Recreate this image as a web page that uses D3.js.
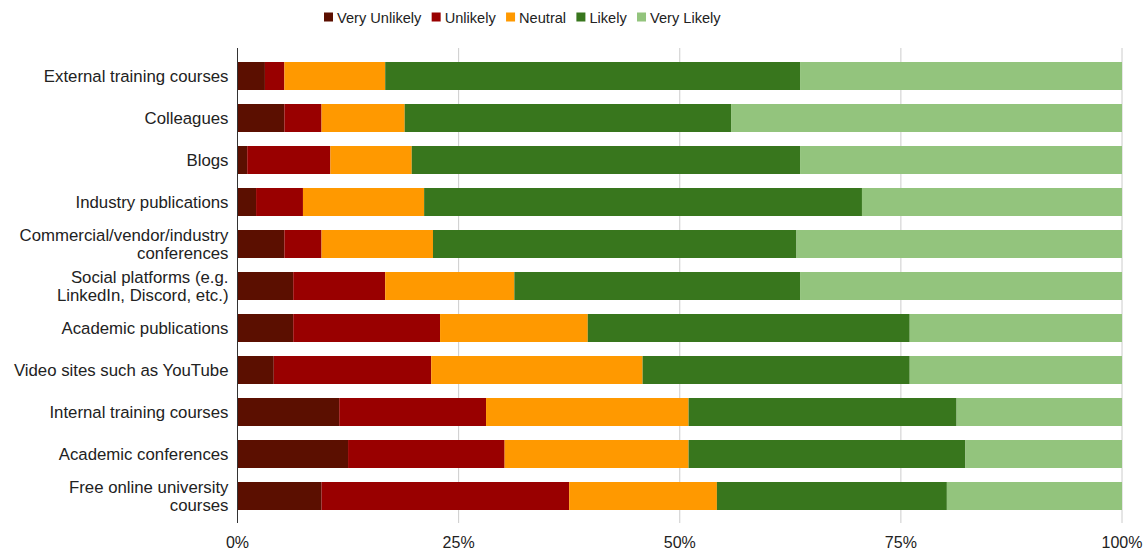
<!DOCTYPE html>
<html>
<head>
<meta charset="utf-8">
<script src="https://cdn.jsdelivr.net/npm/d3@7"></script>
<style>
  body { margin: 0; background: #fff; }
  text { font-family: "Liberation Sans", Arial, sans-serif; fill: #222; }
</style>
</head>
<body>
<svg id="chart" width="1146" height="551"></svg>
<script>
// categories (top to bottom), multi-line labels split by "|"
var categories = [
    "External training courses",
    "Colleagues",
    "Blogs",
    "Industry publications",
    "Commercial/vendor/industry|conferences",
    "Social platforms (e.g.|LinkedIn, Discord, etc.)",
    "Academic publications",
    "Video sites such as YouTube",
    "Internal training courses",
    "Academic conferences",
    "Free online university|courses"
];

var seriesNames = ["Very Unlikely", "Unlikely", "Neutral", "Likely", "Very Likely"];
var seriesColors = ["#5b0f00", "#990000", "#ff9900", "#38761d", "#93c47d"];

// percentages per category
var veryUnlikely = [3.1, 5.3, 1.1, 2.1, 5.3, 6.3, 6.3, 4.1, 11.5, 12.5, 9.5];
var unlikely     = [2.2, 4.2, 9.4, 5.3, 4.2, 10.4, 16.6, 17.8, 16.6, 17.7, 28.0];
var neutral      = [11.4, 9.4, 9.2, 13.7, 12.6, 14.6, 16.7, 23.9, 22.9, 20.8, 16.7];
var likely       = [46.9, 36.9, 43.9, 49.5, 41.1, 32.3, 36.4, 30.2, 30.3, 31.3, 26.0];
var veryLikely   = [36.4, 44.2, 36.4, 29.4, 36.8, 36.4, 24.0, 24.0, 18.7, 17.7, 19.8];

var tickValues = [0, 25, 50, 75, 100];

var svg = d3.select("#chart");

var margin = { left: 237.5, right: 24, top: 55, bottom: 34 };
var plotW = 1146 - margin.left - margin.right,
    plotH = 551 - margin.top - margin.bottom;

var g = svg.append("g")
    .attr("transform", "translate(" + margin.left + "," + margin.top + ")");

// build rows for the stack
var seriesValues = [veryUnlikely, unlikely, neutral, likely, veryLikely];
var rows = categories.map(function (c, i) {
    var r = { cat: c };
    seriesNames.forEach(function (s, j) { r[s] = seriesValues[j][i]; });
    return r;
});

var x = d3.scaleLinear().domain([0, 100]).range([0, plotW]);
var y = d3.scaleBand()
    .domain(categories)
    .range([0, plotH])
    .paddingInner(1 / 3)
    .paddingOuter(1 / 6);

// grid lines
g.selectAll("line.grid")
    .data(tickValues.slice(1))
    .enter().append("line")
    .attr("class", "grid")
    .attr("x1", function (d) { return x(d); })
    .attr("x2", function (d) { return x(d); })
    .attr("y1", -7)
    .attr("y2", plotH + 6)
    .attr("stroke", "#cccccc")
    .attr("stroke-width", 1);

var stack = d3.stack().keys(seriesNames)
    .offset(d3.stackOffsetExpand);
var stacked = stack(rows);

g.selectAll("g.series")
    .data(stacked)
    .enter().append("g")
    .attr("class", "series")
    .attr("fill", function (d, i) { return seriesColors[i]; })
    .selectAll("rect")
    .data(function (d) { return d; })
    .enter().append("rect")
    .attr("x", function (d) { return x(d[0] * 100); })
    .attr("width", function (d) { return x(d[1] * 100) - x(d[0] * 100); })
    .attr("y", function (d) { return y(d.data.cat); })
    .attr("height", y.bandwidth());

// zero axis line
g.append("line")
    .attr("x1", 0).attr("x2", 0)
    .attr("y1", -7).attr("y2", plotH + 6)
    .attr("stroke", "#333")
    .attr("stroke-width", 1);

// x tick labels
g.selectAll("text.xtick")
    .data(tickValues)
    .enter().append("text")
    .attr("class", "xtick")
    .attr("x", function (d) { return x(d); })
    .attr("y", plotH + 31)
    .attr("text-anchor", "middle")
    .style("font-size", "16px")
    .text(function (d) { return d + "%"; });

// y labels
var ylab = g.selectAll("text.ylab")
    .data(categories)
    .enter().append("text")
    .attr("class", "ylab")
    .attr("text-anchor", "end")
    .style("font-size", "16.8px")
    .attr("transform", function (d) {
        return "translate(-9," + (y(d) + y.bandwidth() / 2) + ")";
    });

ylab.each(function (d) {
    var lines = d.split("|");
    var t = d3.select(this);
    var lh = 18.5;
    lines.forEach(function (l, i) {
        t.append("tspan")
            .attr("x", 0)
            .attr("y", (i - (lines.length - 1) / 2) * lh + 6)
            .text(l);
    });
});

// legend
var legend = svg.append("g").attr("transform", "translate(324,17)");
var lx = 0;
seriesNames.forEach(function (s, i) {
    var item = legend.append("g").attr("transform", "translate(" + lx + ",0)");
    item.append("rect")
        .attr("x", 0).attr("y", -4.5)
        .attr("width", 9).attr("height", 9)
        .attr("fill", seriesColors[i]);
    var t = item.append("text")
        .attr("x", 13)
        .attr("y", 5.5)
        .style("font-size", "14.6px")
        .text(s);
    lx += 13 + t.node().getComputedTextLength() + 10.3;
});
</script>
</body>
</html>
